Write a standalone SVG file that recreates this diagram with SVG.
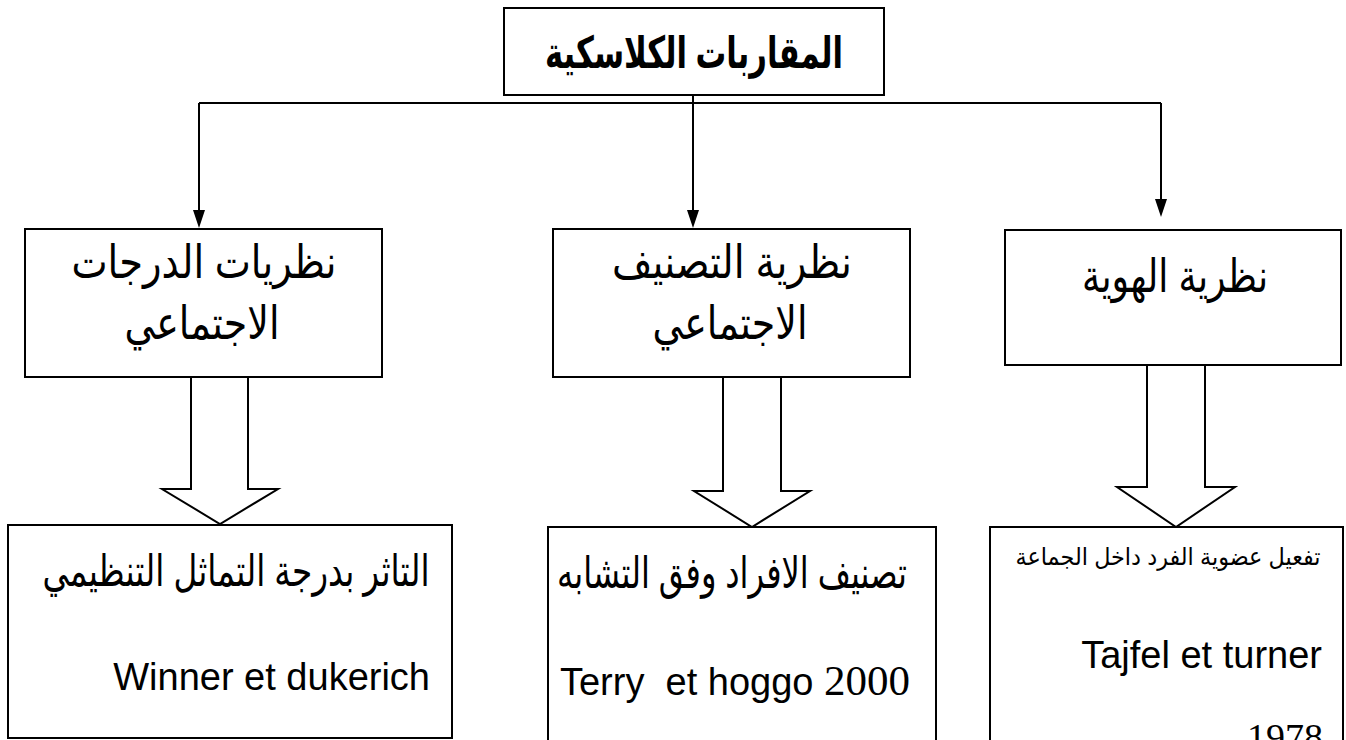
<svg xmlns="http://www.w3.org/2000/svg" width="1346" height="740" viewBox="0 0 1346 740">
<style>
.box{fill:#fff;stroke:#000;stroke-width:2}
.ln{fill:none;stroke:#000;stroke-width:2}
.blk{fill:#fff;stroke:#000;stroke-width:2;stroke-linejoin:miter}
.ar{font-family:"Liberation Sans","DejaVu Sans",sans-serif;fill:#000;text-anchor:middle}
.lat{font-family:"Liberation Sans",Arial,sans-serif;fill:#000;font-size:38px;text-anchor:end;white-space:pre}
.ser{font-family:"Liberation Serif","Times New Roman",serif}
.tip{fill:#000}
</style>
<rect width="1346" height="740" fill="#fff"/>

<g id="connectors">
<path class="ln" d="M693,95 V210"/>
<polygon class="tip" points="687,210 699,210 693,228"/>
<line class="ln" x1="199" y1="103" x2="1161" y2="103"/>
<path class="ln" d="M199,103 V210"/>
<polygon class="tip" points="193,210 205,210 199,228"/>
<path class="ln" d="M1161,103 V199"/>
<polygon class="tip" points="1155,199 1167,199 1161,217"/>
<polygon class="blk" points="191,377 248,377 248,489 278,489 220,524 162,489 191,489"/>
<polygon class="blk" points="723,377 781,377 781,491 810,491 752,527 694,491 723,491"/>
<polygon class="blk" points="1147,365 1205,365 1205,487 1235,487 1176,527 1117,487 1147,487"/>
</g>

<g id="n-top">
<rect class="box" x="504" y="8" width="380" height="87"/>
<text class="ar" x="694" y="68" font-size="44" font-weight="bold" textLength="298" lengthAdjust="spacingAndGlyphs">المقاربات الكلاسكية</text>
</g>

<g id="n-degrees">
<rect class="box" x="25" y="229" width="357" height="148"/>
<text class="ar" x="204" y="278" font-size="46" textLength="265" lengthAdjust="spacingAndGlyphs">نظريات الدرجات</text>
<text class="ar" x="202" y="339" font-size="46" textLength="155" lengthAdjust="spacingAndGlyphs">الاجتماعي</text>
</g>

<g id="n-categorization">
<rect class="box" x="553" y="229" width="357" height="148"/>
<text class="ar" x="732" y="278" font-size="46" textLength="240" lengthAdjust="spacingAndGlyphs">نظرية التصنيف</text>
<text class="ar" x="730" y="339" font-size="46" textLength="155" lengthAdjust="spacingAndGlyphs">الاجتماعي</text>
</g>

<g id="n-identity">
<rect class="box" x="1005" y="230" width="336" height="135"/>
<text class="ar" x="1175" y="292" font-size="46" textLength="186" lengthAdjust="spacingAndGlyphs">نظرية الهوية</text>
</g>

<g id="n-winner">
<rect class="box" x="8" y="525" width="444" height="213"/>
<text class="ar" x="236" y="586" font-size="44" textLength="387" lengthAdjust="spacingAndGlyphs">التاثر بدرجة التماثل التنظيمي</text>
<text class="lat" x="430" y="690">Winner et dukerich</text>
</g>

<g id="n-terry">
<rect class="box" x="548" y="527" width="388" height="220"/>
<text class="ar" x="732" y="588" font-size="44" textLength="350" lengthAdjust="spacingAndGlyphs">تصنيف الافراد وفق التشابه</text>
<text class="lat" x="910" y="695">Terry  et hoggo <tspan class="ser" font-size="43">2000</tspan></text>
</g>

<g id="n-tajfel">
<rect class="box" x="990" y="527" width="353" height="220"/>
<text class="ar" x="1168" y="565" font-size="24" textLength="305" lengthAdjust="spacingAndGlyphs">تفعيل عضوية الفرد داخل الجماعة</text>
<text class="lat" x="1322" y="668">Tajfel et turner</text>
<text class="lat ser" x="1323" y="750" font-size="40">1978</text>
</g>
</svg>
